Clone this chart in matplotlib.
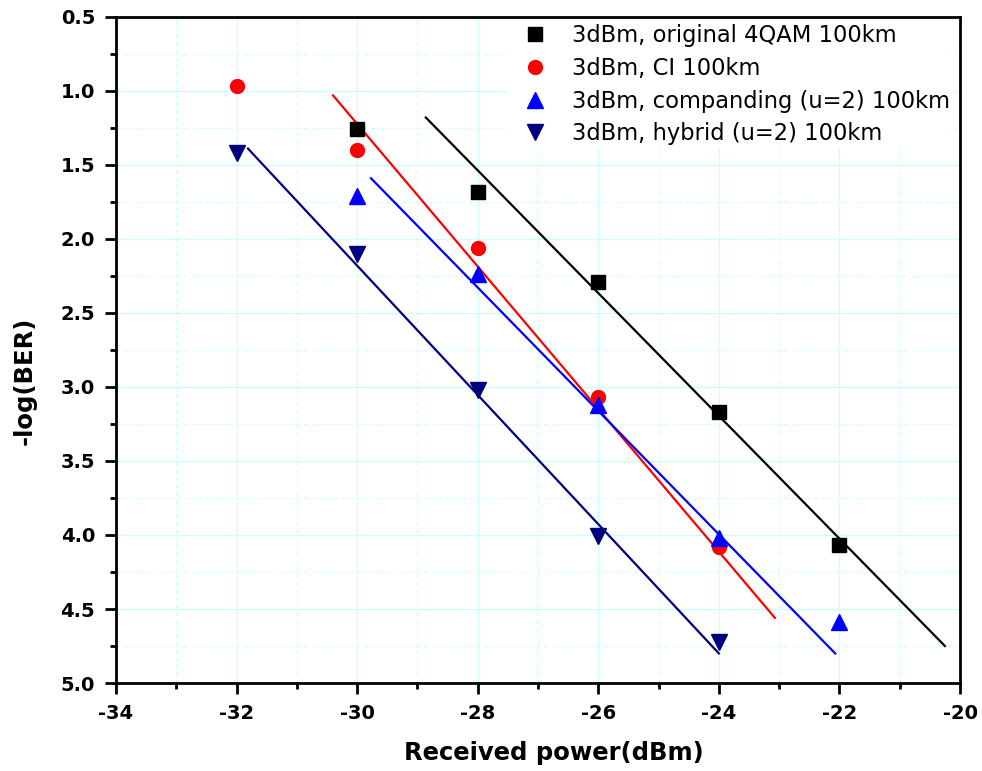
import numpy as np
import matplotlib
matplotlib.use('Agg')
import matplotlib.pyplot as plt
from matplotlib.ticker import MultipleLocator, FormatStrFormatter

plt.rcParams['font.family'] = ['DejaVu Sans']
plt.rcParams['axes.unicode_minus'] = False

# measured points
orig_x = [-30, -28, -26, -24, -22]
orig_y = [1.26, 1.68, 2.29, 3.17, 4.07]
ci_x = [-32, -30, -28, -26, -24]
ci_y = [0.97, 1.40, 2.06, 3.07, 4.08]
comp_x = [-30, -28, -26, -24, -22]
comp_y = [1.71, 2.24, 3.12, 4.02, 4.59]
hyb_x = [-32, -30, -28, -26, -24]
hyb_y = [1.42, 2.10, 3.02, 4.01, 4.72]

# linear fit lines (end points)
orig_fit_x = [-28.86, -20.25]
orig_fit_y = [1.18, 4.75]
ci_fit_x = [-30.40, -23.07]
ci_fit_y = [1.03, 4.56]
comp_fit_x = [-29.77, -22.07]
comp_fit_y = [1.59, 4.80]
hyb_fit_x = [-31.81, -24.0]
hyb_fit_y = [1.39, 4.80]

labels = ['3dBm, original 4QAM 100km', '3dBm, CI 100km',
          '3dBm, companding (u=2) 100km', '3dBm, hybrid (u=2) 100km']

fig = plt.figure(figsize=(9.82, 7.71), dpi=100)
ax = fig.add_axes([0.1181, 0.1141, 0.8595, 0.864])

ax.plot(orig_fit_x, orig_fit_y, color='black', lw=1.6)
ax.plot(ci_fit_x, ci_fit_y, color='red', lw=1.6)
ax.plot(comp_fit_x, comp_fit_y, color='blue', lw=1.6)
ax.plot(hyb_fit_x, hyb_fit_y, color='#000080', lw=1.6)

ax.plot(orig_x, orig_y, 's', color='black', ms=9.5, ls='none', label=labels[0])
ax.plot(ci_x, ci_y, 'o', color='red', ms=10, ls='none', label=labels[1])
ax.plot(comp_x, comp_y, '^', color='blue', ms=11.5, ls='none', label=labels[2])
ax.plot(hyb_x, hyb_y, 'v', color='#000080', ms=11.5, ls='none', label=labels[3])

ax.set_xlim(-34, -20)
ax.set_ylim(5.0, 0.5)
ax.xaxis.set_major_locator(MultipleLocator(2))
ax.xaxis.set_minor_locator(MultipleLocator(1))
ax.yaxis.set_major_locator(MultipleLocator(0.5))
ax.yaxis.set_minor_locator(MultipleLocator(0.25))
ax.yaxis.set_major_formatter(FormatStrFormatter('%.1f'))

ax.grid(which='major', color='#ccffff', lw=0.9, ls='-')
ax.grid(which='minor', color='#ccffff', lw=0.9, ls=(0, (3, 3)))
ax.set_axisbelow(True)

for s in ax.spines.values():
    s.set_linewidth(2)
ax.tick_params(which='major', direction='out', length=8, width=2,
               labelsize=14, top=False, right=False, pad=7)
ax.tick_params(which='minor', direction='out', length=4.5, width=2,
               top=False, right=False)
for t in ax.get_xticklabels() + ax.get_yticklabels():
    t.set_fontweight('bold')

ax.set_xlabel('Received power(dBm)', fontsize=17.5, fontweight='bold')
ax.set_ylabel('-log(BER)', fontsize=17.5, fontweight='bold')
ax.xaxis.set_label_coords(0.519, -0.087)
ax.yaxis.set_label_coords(-0.0936, 0.4535)

leg = ax.legend(loc='upper right', bbox_to_anchor=(0.997, 1.0), fontsize=16.3,
                frameon=True, framealpha=1, facecolor='white', edgecolor='none',
                handletextpad=0.6, labelspacing=0.43, borderpad=0.12,
                handlelength=2.1, borderaxespad=0.2, fancybox=False)

fig.savefig('out.png', dpi=100)
